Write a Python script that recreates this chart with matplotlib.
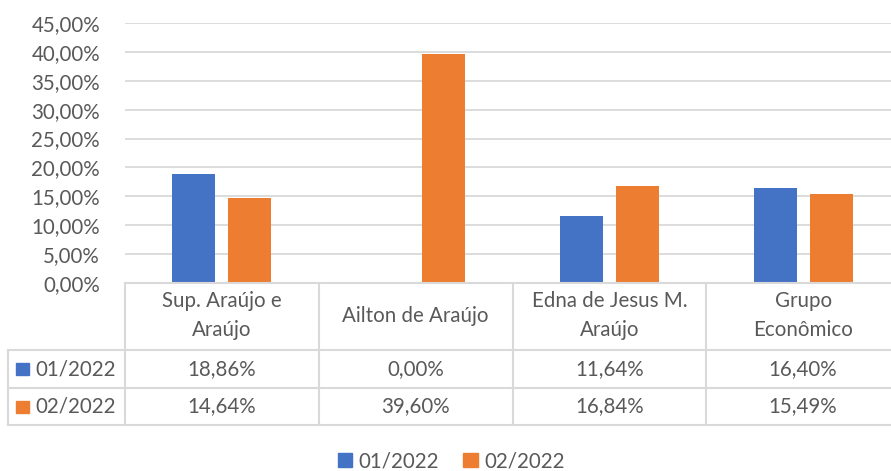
import numpy as np
import matplotlib.pyplot as plt
from matplotlib.lines import Line2D
from matplotlib.patches import Rectangle

categories = ["Sup. Araújo e\nAraújo", "Ailton de Araújo", "Edna de Jesus M.\nAraújo", "Grupo\nEconômico"]
series_names = ["01/2022", "02/2022"]
vals_01 = [18.86, 0.00, 11.64, 16.40]
vals_02 = [14.64, 39.60, 16.84, 15.49]
colors = ["#4472C4", "#ED7D31"]

plt.rcParams['font.family'] = ['Lato', 'DejaVu Sans']
txt = "#595959"
grid_c = "#d9d9d9"
fs = 14.8

W, H = 891, 471
fig = plt.figure(figsize=(W / 100, H / 100), dpi=100)

def fx(px):
    return px / W

def fy(py):
    return 1 - py / H

# plot area in pixels
x0, x1 = 125, 900
y_top, y_bot = 23, 283
ax = fig.add_axes([fx(x0), fy(y_bot), fx(x1) - fx(x0), fy(y_top) - fy(y_bot)])

n = len(categories)
x = np.arange(n)
bw = 0.222
off = 0.144
ax.bar(x - off, vals_01, bw, color=colors[0], zorder=3)
ax.bar(x + off, vals_02, bw, color=colors[1], zorder=3)

ax.set_xlim(-0.5, n - 0.5)
ax.set_ylim(0, 45)
ticks = np.arange(0, 46, 5)
ax.set_yticks(ticks)
ax.set_yticklabels([f"{t:.2f}%".replace(".", ",") for t in ticks], color=txt, fontsize=fs)
ax.tick_params(axis='y', length=0, pad=18)
ax.set_xticks([])
ax.grid(axis='y', color=grid_c, linewidth=1.3, zorder=0)
for s in ax.spines.values():
    s.set_visible(False)

# data table below the plot
col_w = (x1 - x0) / n
row_hdr = (283, 350)
rows = [(350, 388), (388, 425)]
left_px = 8
lw = 1.5

def hline(py, xa, xb):
    fig.add_artist(Line2D([fx(xa), fx(xb)], [fy(py), fy(py)], color=grid_c, lw=lw))

def vline(px, ya, yb):
    fig.add_artist(Line2D([fx(px), fx(px)], [fy(ya), fy(yb)], color=grid_c, lw=lw))

hline(283, x0, x1)
for py in (350, 388, 425):
    hline(py, left_px, x1)
for i in range(n + 1):
    vline(x0 + i * col_w, 283, 425)
vline(left_px, 350, 425)

for i, cat in enumerate(categories):
    cx = x0 + (i + 0.5) * col_w
    fig.text(fx(cx), fy(sum(row_hdr) / 2 - 1), cat, ha='center', va='center',
             color=txt, fontsize=fs, linespacing=1.55)

for r, (vals, name, c) in enumerate(zip([vals_01, vals_02], series_names, colors)):
    ya, yb = rows[r]
    cy = (ya + yb) / 2
    fig.add_artist(Rectangle((fx(16), fy(cy + 6)), fx(13), fy(cy - 6) - fy(cy + 6), color=c))
    fig.text(fx(35), fy(cy), name, ha='left', va='center', color=txt, fontsize=fs)
    for i, v in enumerate(vals):
        cx = x0 + (i + 0.5) * col_w
        fig.text(fx(cx), fy(cy), f"{v:.2f}%".replace(".", ","), ha='center', va='center',
                 color=txt, fontsize=fs)

# legend
handles = [Rectangle((0, 0), 1, 1, color=c) for c in colors]
fig.legend(handles, series_names, loc='center', bbox_to_anchor=(fx(451), fy(461)), ncol=2,
           frameon=False, fontsize=fs, labelcolor=txt, handlelength=0.7, handleheight=0.7,
           handletextpad=0.3, columnspacing=1.2, borderpad=0)

fig.savefig("out.png", dpi=100)
